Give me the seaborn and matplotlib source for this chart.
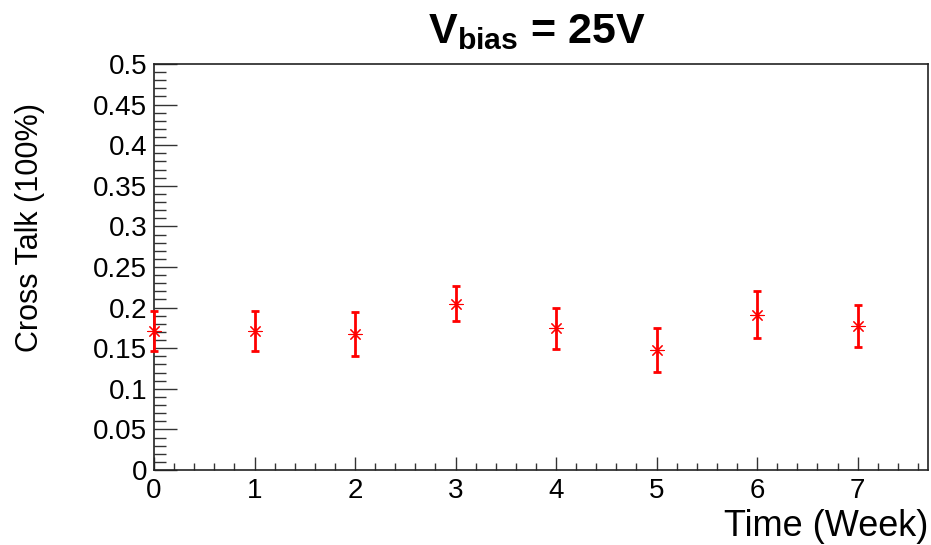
import seaborn as sns
import matplotlib.pyplot as plt
from matplotlib.ticker import MultipleLocator
import pandas as pd


#%% Data
Weeks      = [0, 1, 2, 3, 4, 5, 6, 7]
CrossTalk  = [0.171, 0.171, 0.167, 0.205, 0.1745, 0.148, 0.1915, 0.1775]
CrossErr   = [0.0247, 0.025, 0.027, 0.021, 0.0255, 0.027, 0.0285, 0.0255]

df = pd.DataFrame({"Week": Weeks, "CrossTalk": CrossTalk, "Err": CrossErr})

XTicks = [0, 1, 2, 3, 4, 5, 6, 7]
YTicks = [0, 0.05, 0.1, 0.15, 0.2, 0.25, 0.3, 0.35, 0.4, 0.45, 0.5]
YTickLabels = ["0", "0.05", "0.1", "0.15", "0.2", "0.25", "0.3", "0.35", "0.4", "0.45", "0.5"]

Title  = r"V$_{\mathbf{bias}}$ = 25V"
XLabel = "Time (Week)"
YLabel = "Cross Talk (100%)"


#%% Style
sns.set_style("white")
plt.rcParams['font.family'] = ['Liberation Sans', 'DejaVu Sans']
plt.rcParams['mathtext.fontset'] = 'custom'
plt.rcParams['mathtext.rm'] = 'Liberation Sans'
plt.rcParams['mathtext.bf'] = 'Liberation Sans:bold'
plt.rcParams['text.color'] = 'black'
plt.rcParams['xtick.labelcolor'] = 'black'
plt.rcParams['ytick.labelcolor'] = 'black'

Color = "#ff0000"
FontSize_TickLabel = 20
FontSize_XLabel = 26
FontSize_YLabel = 22
FontSize_Title = 31


Fig = plt.figure(figsize=[9.31, 5.45], dpi=100)
ax = plt.axes([154/931, 1 - 470/545, (928-154)/931, (470-64)/545])

ax.errorbar(df["Week"], df["CrossTalk"], yerr=df["Err"], fmt="none",
            ecolor=Color, elinewidth=2, capsize=2.8, capthick=2,
            clip_on=False, zorder=3)
sns.scatterplot(data=df, x="Week", y="CrossTalk", marker=(8, 2, 0), s=90,
                color=Color, edgecolor=Color, linewidth=0.8, ax=ax,
                clip_on=False, zorder=4)

# Axes
ax.set_xlim(0, 7.7)
ax.set_ylim(0, 0.5)
ax.set_xticks(XTicks)
ax.set_xticklabels([str(t) for t in XTicks], fontsize=FontSize_TickLabel)
ax.set_yticks(YTicks)
ax.set_yticklabels(YTickLabels, fontsize=FontSize_TickLabel)
ax.xaxis.set_minor_locator(MultipleLocator(0.2))
ax.yaxis.set_minor_locator(MultipleLocator(0.01))

ax.tick_params(axis="x", which="major", direction="in", length=9.5, width=1,
               color="#333333", pad=6, bottom=True, top=False)
ax.tick_params(axis="x", which="minor", direction="in", length=4.7, width=1,
               color="#333333", bottom=True, top=False)
ax.tick_params(axis="y", which="major", direction="in", length=16.5, width=1,
               color="#333333", pad=5, left=True, right=False)
ax.tick_params(axis="y", which="minor", direction="in", length=8.5, width=1,
               color="#333333", left=True, right=False)

for sp in ax.spines.values():
    sp.set_visible(True)
    sp.set_color("#222222")
    sp.set_linewidth(1.2)

ax.set_xlabel("")
ax.set_ylabel("")

# Titles
Fig.text(30/931, 1 - 228/545, YLabel, rotation=90, ha="center", va="center",
         fontsize=FontSize_YLabel)
Fig.text(928/931, 1 - 536/545, XLabel, ha="right", va="baseline",
         fontsize=FontSize_XLabel)
Fig.text(537/931, 1 - 43/545, Title, ha="center", va="baseline",
         fontsize=FontSize_Title, fontweight="bold")

plt.savefig("out.png", dpi=100)
